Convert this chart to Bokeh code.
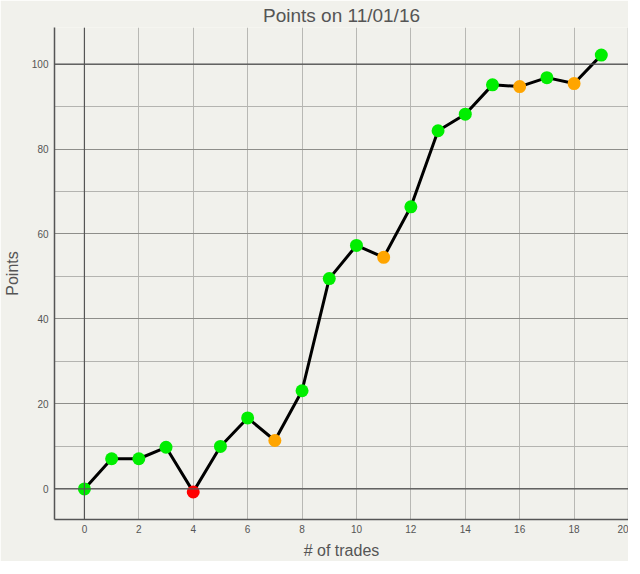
from bokeh.plotting import figure
from bokeh.models import Span, SingleIntervalTicker, Range1d, ColumnDataSource
from bokeh.embed import file_html
from bokeh.resources import INLINE

# data
trades = list(range(20))
points = [0, 7.1, 7.1, 9.8, -0.7, 10.0, 16.7, 11.4, 23.1, 49.5,
          57.3, 54.5, 66.4, 84.3, 88.2, 95.1, 94.7, 96.8, 95.4, 102.1]
colors = ['#00ee00', '#00ee00', '#00ee00', '#00ee00', '#ff0000', '#00ee00',
          '#00ee00', '#ffa500', '#00ee00', '#00ee00', '#00ee00', '#ffa500',
          '#00ee00', '#00ee00', '#00ee00', '#00ee00', '#ffa500', '#00ee00',
          '#ffa500', '#00ee00']

BG = '#f1f1ec'
TXT = '#555555'

src = ColumnDataSource(dict(x=trades, y=points, c=colors))

p = figure(frame_width=574, frame_height=492, output_backend="svg", toolbar_location=None,
           title='Points on 11/01/16',
           x_range=Range1d(-1.1, 20), y_range=Range1d(-7.2, 108.6),
           x_axis_label='# of trades', y_axis_label='Points',
           background_fill_color=BG, border_fill_color=BG,
           min_border_left=50, min_border_right=0, min_border_top=0,
           min_border_bottom=0)
p.outline_line_color = None

p.title.align = 'center'
p.title.text_font = 'Liberation Sans'
p.title.text_font_size = '19px'
p.title.text_font_style = 'normal'
p.title.text_color = TXT
p.title.standoff = 4

# axes
p.xaxis.ticker = SingleIntervalTicker(interval=2)
p.yaxis.ticker = SingleIntervalTicker(interval=20, num_minor_ticks=2)
for ax in (p.xaxis[0], p.yaxis[0]):
    ax.axis_line_color = '#555555'
    ax.axis_line_width = 1.5
    ax.major_tick_out = 0
    ax.major_tick_in = 0
    ax.minor_tick_out = 0
    ax.minor_tick_in = 0
    ax.major_label_text_font = 'Liberation Sans'
    ax.major_label_text_font_size = '10px'
    ax.major_label_text_color = TXT
    ax.axis_label_text_font = 'Liberation Sans'
    ax.axis_label_text_font_size = '16px'
    ax.axis_label_text_font_style = 'normal'
    ax.axis_label_text_color = TXT
p.xaxis.major_label_standoff = 5
p.yaxis.major_label_standoff = 6
p.xaxis.axis_label_standoff = 6
p.yaxis.axis_label_standoff = 8

# grid
p.xgrid.grid_line_color = '#b8b8b4'
p.xgrid.grid_line_width = 1
p.ygrid.grid_line_color = '#8e8e8a'
p.ygrid.grid_line_width = 1
p.ygrid.minor_grid_line_color = '#b4b4b0'

for loc, dim in ((0, 'height'), (20, 'height'), (0, 'width'), (100, 'width')):
    p.add_layout(Span(location=loc, dimension=dim, line_color='#555555', line_width=1.2))

p.line('x', 'y', source=src, line_color='black', line_width=3)
p.scatter('x', 'y', source=src, size=13, fill_color='c', line_color=None)

open("out.html", "w").write(file_html(p, INLINE))
